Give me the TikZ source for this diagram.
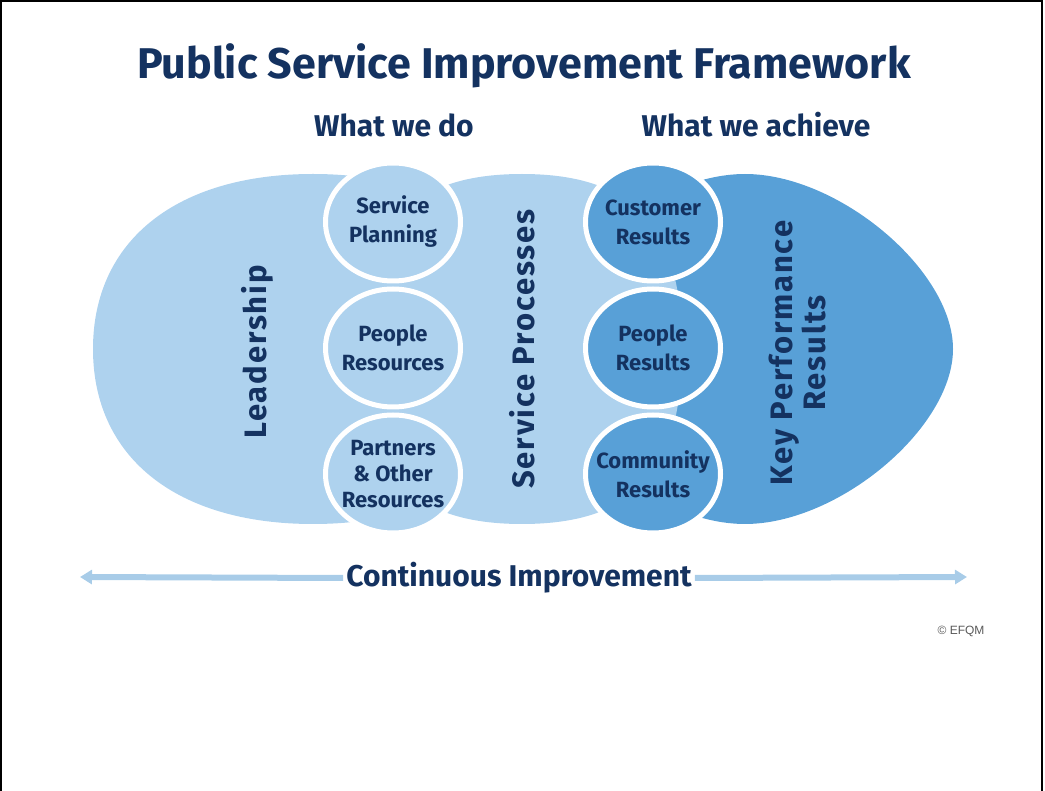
\documentclass[tikz,border=0pt]{standalone}
\usepackage{fontspec}
\setmainfont{Fira Sans}
\newfontfamily\wideletters[LetterSpace=6]{Fira Sans}
\newfontfamily\notefont{Liberation Sans}
\usepackage{tikz}
\usetikzlibrary{arrows.meta,positioning,shapes.geometric}

\definecolor{navy}{RGB}{20,50,96}
\definecolor{paleblue}{RGB}{174,210,238}
\definecolor{deepblue}{RGB}{88,160,215}
\definecolor{midblue}{RGB}{122,180,225}
\definecolor{linkblue}{RGB}{168,204,232}
\pgfdeclarehorizontalshading{procshade}{100bp}{color(0bp)=(paleblue); color(74bp)=(paleblue); color(100bp)=(midblue)}

\begin{document}
\begin{tikzpicture}[x=1pt, y=-1pt,
  every node/.style={text=navy, font=\bfseries\fontsize{30}{33}\selectfont},
  topic/.style={ellipse, draw=white, line width=5pt, minimum width=135pt,
    minimum height=118pt, inner xsep=-16pt, inner ysep=-6pt, align=center,
    font=\bfseries\fontsize{22}{29}\selectfont},
  dopart/.style={topic, fill=paleblue},
  getpart/.style={topic, fill=deepblue},
  bigword/.style={rotate=90, align=center,
    font=\wideletters\bfseries\fontsize{31}{33}\selectfont}]
  \useasboundingbox (0,0) rectangle (1045,791);
  % page frame, open at the bottom
  \draw[line width=2pt] (1,791) -- (1,1) -- (1042,1) -- (1042,791);

  % Headings
  \node[font=\bfseries\fontsize{43}{48}\selectfont] (title) at (524,66)
    {Public Service Improvement Framework};
  \node (dohead) at (394,125) {What we do};
  \node (gethead) at (756,125) {What we achieve};

  % Key performance results (back)
  \fill[deepblue] (953,349) .. controls (953,270.25) and (838.6,174) .. (745,174)
    .. controls (651.4,174) and (537,270.25) .. (537,349)
    .. controls (537,427.75) and (651.4,524) .. (745,524)
    .. controls (838.6,524) and (953,427.75) .. (953,349) -- cycle;
  % Service processes
  \shade[shading=procshade] (682,349) .. controls (682,226.5) and (634,174) .. (522,174)
    .. controls (410,174) and (362,226.5) .. (362,349)
    .. controls (362,471.5) and (410,524) .. (522,524)
    .. controls (634,524) and (682,471.5) .. (682,349) -- cycle;
  % Leadership
  \fill[paleblue] (533,349) .. controls (533,240.5) and (449.4,174) .. (313,174)
    .. controls (176.6,174) and (93,240.5) .. (93,349)
    .. controls (93,457.5) and (176.6,524) .. (313,524)
    .. controls (449.4,524) and (533,457.5) .. (533,349) -- cycle;

  % Enablers and results
  \node[dopart] (plan) at (393,222) {Service\\Planning};
  \node[dopart] (staff) at (393,348) {People\\Resources};
  \node[dopart, font=\bfseries\fontsize{22}{26}\selectfont] (partners) at (393,474)
    {Partners\\\& Other\\Resources};
  \node[getpart] (customers) at (653,222) {Customer\\Results};
  \node[getpart] (staffres) at (653,348) {People\\Results};
  \node[getpart] (community) at (653,474) {Community\\Results};

  \node[bigword] (lead) at (257,352) {Leadership};
  \node[bigword] (process) at (522,349) {Service Processes};
  \node[bigword] (kpr) at (797,353) {Key Performance\\Results};

  % Improvement arrow
  \node[inner sep=3pt] (improve) at (519,578) {Continuous Improvement};
  \coordinate (farleft) at (80,577);
  \coordinate (farright) at (967,577);
  \draw[linkblue, line width=6pt, -{Triangle[length=12pt,width=14pt]}] (improve.west) -- (farleft);
  \draw[linkblue, line width=6pt, -{Triangle[length=12pt,width=14pt]}] (improve.east) -- (farright);

  \node[anchor=east, text=black!65, font=\notefont\fontsize{12}{14}\selectfont] (rights)
    at (988,631) {© EFQM};
\end{tikzpicture}
\end{document}
